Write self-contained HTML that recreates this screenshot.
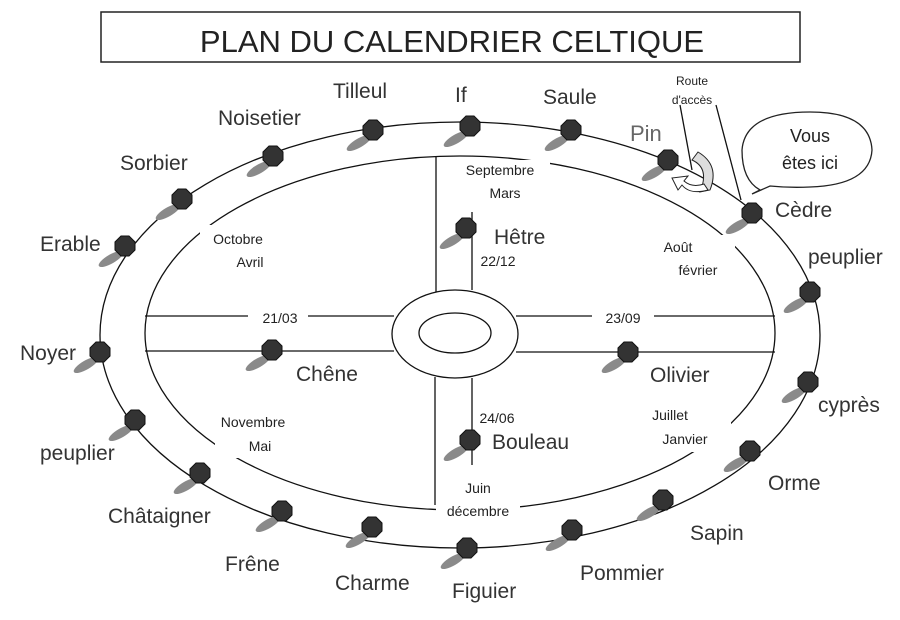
<!DOCTYPE html>
<html><head><meta charset="utf-8"><style>
body{margin:0;background:#fff}
svg text{font-family:"Liberation Sans",sans-serif;fill:#222}
.n{font-size:21px;fill:#333}
.s{font-size:14px}
</style></head><body>
<svg width="900" height="615" viewBox="0 0 900 615" xmlns="http://www.w3.org/2000/svg">
<defs>
<g id="nd">
<ellipse cx="-14" cy="13" rx="14" ry="4.5" transform="rotate(-30 -14 13)" fill="#8a8a8a"/>
<polygon points="-4,-10 4,-10 10,-4 10,4 4,10 -4,10 -10,4 -10,-4" fill="#333" stroke="#111" stroke-width="1"/>
</g>
</defs>
<rect x="101" y="12" width="699" height="50" fill="none" stroke="#222" stroke-width="1.5"/>
<text x="452" y="52" text-anchor="middle" style="font-size:31px">PLAN DU  CALENDRIER CELTIQUE</text>
<g fill="none" stroke="#111" stroke-width="1.3">
<ellipse cx="460" cy="335" rx="360" ry="213"/>
<ellipse cx="460" cy="333" rx="315" ry="177"/>
<ellipse cx="455" cy="334" rx="63" ry="44" fill="#fff"/>
<ellipse cx="455" cy="333" rx="36" ry="20"/>
<line x1="436" y1="157" x2="436" y2="292"/>
<line x1="472" y1="212" x2="472" y2="290"/>
<line x1="435" y1="377" x2="435" y2="505"/>
<line x1="472" y1="378" x2="472" y2="465"/>
<line x1="145" y1="316" x2="394" y2="316"/>
<line x1="145" y1="351" x2="394" y2="351"/>
<line x1="516" y1="316" x2="775" y2="316"/>
<line x1="516" y1="352" x2="775" y2="352"/>
<line x1="680" y1="105" x2="692" y2="170"/>
<line x1="716" y1="105" x2="741" y2="200"/>
</g>
<g fill="#fff">
<rect x="200" y="225" width="80" height="48"/><rect x="450" y="160" width="100" height="45"/>
<rect x="655" y="235" width="80" height="50"/><rect x="215" y="410" width="75" height="48"/>
<rect x="636" y="402" width="95" height="50"/><rect x="436" y="478" width="84" height="42"/>
<rect x="248" y="308" width="60" height="18"/><rect x="592" y="308" width="62" height="18"/>
</g>
<path d="M698,152 Q720,165 710,190 L700,192 Q710,168 692,160 Z" fill="#ddd" stroke="#222"/>
<path d="M708,190 Q690,195 682,185 L678,190 L672,178 L688,176 L684,181 Q692,188 704,184 Z" fill="#fff" stroke="#222"/>
<path d="M760,190 Q742,180 742,150 Q745,112 810,112 Q870,112 872,150 Q870,185 810,187 Q790,188 770,186 L752,194 Z" fill="#fff" stroke="#222" stroke-width="1.3"/>
<text x="810" y="142" text-anchor="middle" style="font-size:18px">Vous</text>
<text x="810" y="169" text-anchor="middle" style="font-size:18px">êtes ici</text>
<text x="692" y="85" text-anchor="middle" style="font-size:12px">Route</text>
<text x="692" y="104" text-anchor="middle" style="font-size:12px">d'accès</text>
<use href="#nd" x="100" y="352"/><use href="#nd" x="125" y="246"/><use href="#nd" x="182" y="199"/>
<use href="#nd" x="273" y="156"/><use href="#nd" x="373" y="130"/><use href="#nd" x="470" y="126"/>
<use href="#nd" x="571" y="130"/><use href="#nd" x="668" y="160"/><use href="#nd" x="752" y="213"/>
<use href="#nd" x="810" y="292"/><use href="#nd" x="808" y="382"/><use href="#nd" x="750" y="451"/>
<use href="#nd" x="663" y="500"/><use href="#nd" x="572" y="530"/><use href="#nd" x="467" y="548"/>
<use href="#nd" x="372" y="527"/><use href="#nd" x="282" y="511"/><use href="#nd" x="200" y="473"/>
<use href="#nd" x="135" y="420"/>
<use href="#nd" x="466" y="228"/><use href="#nd" x="272" y="350"/><use href="#nd" x="628" y="352"/><use href="#nd" x="470" y="440"/>
<text class="n" x="40" y="251">Erable</text>
<text class="n" x="120" y="170">Sorbier</text>
<text class="n" x="218" y="125">Noisetier</text>
<text class="n" x="333" y="98">Tilleul</text>
<text class="n" x="455" y="102">If</text>
<text class="n" x="543" y="104">Saule</text>
<text class="n" x="630" y="141" style="font-size:22px;fill:#666">Pin</text>
<text class="n" x="775" y="217">Cèdre</text>
<text class="n" x="808" y="264">peuplier</text>
<text class="n" x="818" y="412">cyprès</text>
<text class="n" x="768" y="490">Orme</text>
<text class="n" x="690" y="540">Sapin</text>
<text class="n" x="580" y="580">Pommier</text>
<text class="n" x="452" y="598">Figuier</text>
<text class="n" x="335" y="590">Charme</text>
<text class="n" x="225" y="571">Frêne</text>
<text class="n" x="108" y="523">Châtaigner</text>
<text class="n" x="40" y="460">peuplier</text>
<text class="n" x="20" y="360">Noyer</text>
<text class="n" x="494" y="244">Hêtre</text>
<text class="n" x="296" y="381">Chêne</text>
<text class="n" x="650" y="382">Olivier</text>
<text class="n" x="492" y="449">Bouleau</text>
<text class="s" x="500" y="175" text-anchor="middle">Septembre</text>
<text class="s" x="505" y="198" text-anchor="middle">Mars</text>
<text class="s" x="498" y="266" text-anchor="middle">22/12</text>
<text class="s" x="497" y="423" text-anchor="middle">24/06</text>
<text class="s" x="478" y="493" text-anchor="middle">Juin</text>
<text class="s" x="478" y="516" text-anchor="middle">décembre</text>
<text class="s" x="238" y="244" text-anchor="middle">Octobre</text>
<text class="s" x="250" y="267" text-anchor="middle">Avril</text>
<text class="s" x="280" y="323" text-anchor="middle">21/03</text>
<text class="s" x="623" y="323" text-anchor="middle">23/09</text>
<text class="s" x="678" y="252" text-anchor="middle">Août</text>
<text class="s" x="698" y="275" text-anchor="middle">février</text>
<text class="s" x="253" y="427" text-anchor="middle">Novembre</text>
<text class="s" x="260" y="451" text-anchor="middle">Mai</text>
<text class="s" x="670" y="420" text-anchor="middle">Juillet</text>
<text class="s" x="685" y="444" text-anchor="middle">Janvier</text>
</svg>
</body></html>
